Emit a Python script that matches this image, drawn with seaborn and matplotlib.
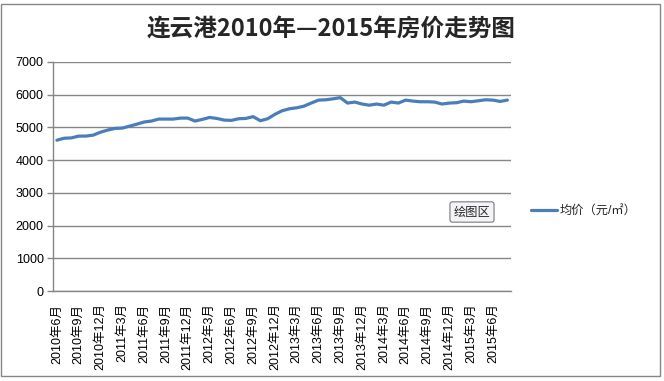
import matplotlib
matplotlib.use('Agg')
import matplotlib.pyplot as plt
import seaborn as sns
import pandas as pd
import numpy as np
from matplotlib.patches import Rectangle

# monthly average price, 2010-06 .. 2015-08
months = [f"{2010 + (5 + i) // 12}年{(5 + i) % 12 + 1}月" for i in range(63)]
prices = [4610, 4670, 4680, 4735, 4735, 4765, 4855, 4920, 4970, 4980,
          5040, 5100, 5165, 5195, 5255, 5255, 5255, 5285, 5285, 5195,
          5245, 5305, 5275, 5225, 5215, 5265, 5275, 5330, 5205, 5265,
          5400, 5510, 5570, 5600, 5650, 5745, 5835, 5845, 5875, 5910,
          5745, 5775, 5715, 5680, 5715, 5680, 5775, 5745, 5835, 5805,
          5785, 5785, 5775, 5715, 5745, 5755, 5805, 5785, 5815, 5845,
          5835, 5795, 5835]
yticks = [0, 1000, 2000, 3000, 4000, 5000, 6000, 7000]
series_name = "均价（元/㎡）"
title = "连云港2010年—2015年房价走势图"

df = pd.DataFrame({"pos": np.arange(len(months)), "price": prices})

sns.set_style("white")
plt.rcParams['font.family'] = ['Liberation Sans', 'Noto Sans CJK SC']

W, H = 664, 381
fig = plt.figure(figsize=(W / 100, H / 100), dpi=100)
ax = fig.add_axes([53.3 / W, 1 - 291 / H, (511 - 53.3) / W, (291 - 62) / H])

sns.lineplot(data=df, x="pos", y="price", ax=ax, color="#4A7EBB",
             linewidth=2.3, label=series_name)

grey = "#868686"
ax.set_xlim(-0.5, len(months) - 0.5)
ax.set_ylim(0, 7000)
ax.set_yticks(yticks)
ax.set_yticklabels([str(v) for v in yticks])
ax.yaxis.grid(True, color=grey, linewidth=1)
ax.xaxis.grid(False)
ax.set_axisbelow(True)

tick_pos = list(range(0, 61, 3))
ax.set_xticks(tick_pos)
ax.set_xticklabels([months[i] for i in tick_pos], rotation=90, va='top', ha='center')
ax.set_xticks(np.arange(-0.5, len(months), 3), minor=True)
ax.tick_params(axis='x', which='major', length=0, pad=9, labelsize=9, colors='black')
ax.tick_params(axis='x', which='minor', length=4, width=1, color=grey, direction='out')
ax.tick_params(axis='y', which='major', length=4, width=1, color=grey, pad=3,
               labelsize=9, labelcolor='black', direction='out', left=True)
ax.set_xlabel("")
ax.set_ylabel("")

for side in ['top', 'right']:
    ax.spines[side].set_visible(False)
for side in ['left', 'bottom']:
    ax.spines[side].set_color(grey)
    ax.spines[side].set_linewidth(1)

ax.legend(loc='center left', bbox_to_anchor=(531 / W, 1 - 211 / H),
          bbox_transform=fig.transFigure, frameon=False, fontsize=8.8,
          handlelength=2.1, handletextpad=0.25, borderpad=0, borderaxespad=0)

fig.text(331.5 / W, 1 - 29 / H, title, ha='center', va='center',
         fontsize=17, fontweight='bold', family=['Noto Sans CJK SC'])

# Excel tooltip left in the screenshot
fig.text(472 / W, 1 - 212 / H, "绘图区", ha='center', va='center', fontsize=8.8,
         family=['Noto Sans CJK SC'],
         bbox=dict(boxstyle='round,pad=0.3,rounding_size=0.2', facecolor='#F4F4F8',
                   edgecolor='#7A7A7A', linewidth=0.8))

# chart frame
fig.patches.append(Rectangle((1 / W, 1 - 376 / H), 659 / W, 372 / H,
                             transform=fig.transFigure, fill=False,
                             edgecolor=grey, linewidth=1))

fig.savefig("out.png", dpi=100)
